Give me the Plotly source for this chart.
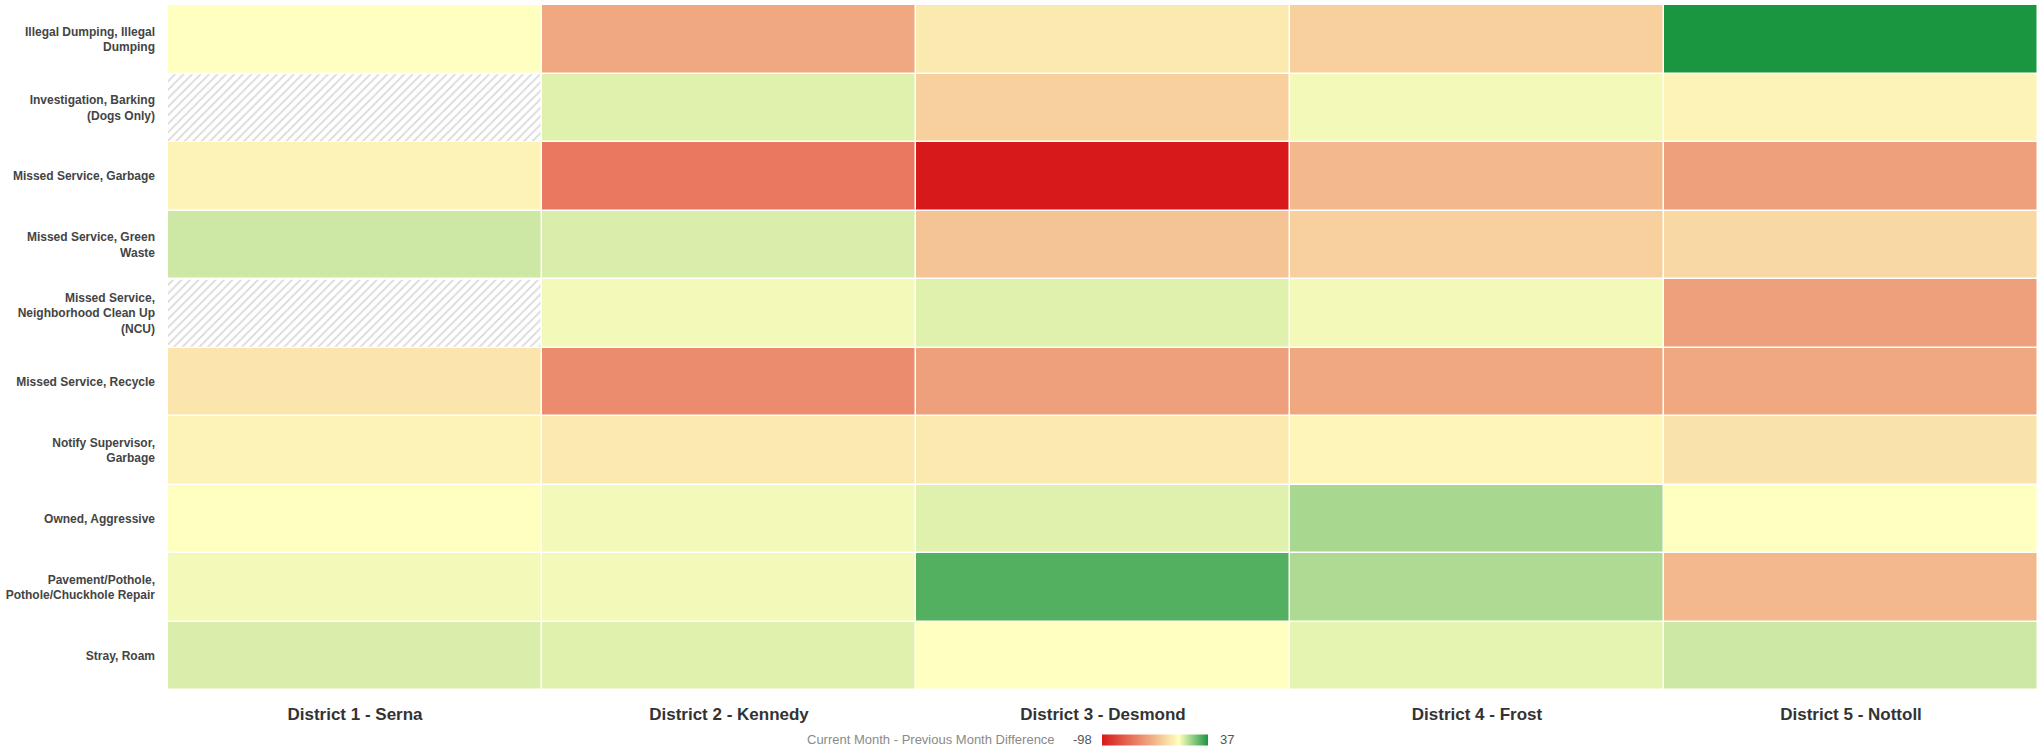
import plotly.graph_objects as go

districts = ["District 1 - Serna", "District 2 - Kennedy", "District 3 - Desmond",
             "District 4 - Frost", "District 5 - Nottoll"]

request_types = [
    "Illegal Dumping, Illegal<br>Dumping",
    "Investigation, Barking<br>(Dogs Only)",
    "Missed Service, Garbage",
    "Missed Service, Green<br>Waste",
    "Missed Service,<br>Neighborhood Clean Up<br>(NCU)",
    "Missed Service, Recycle",
    "Notify Supervisor,<br>Garbage",
    "Owned, Aggressive",
    "Pavement/Pothole,<br>Pothole/Chuckhole Repair",
    "Stray, Roam",
]

# Current month minus previous month, one list per district (None = no data)
serna   = [0, None, -5, 8, None, -11, -5, 0, 2, 6]
kennedy = [-37, 5, -57, 6, 2, -49, -9, 2, 2, 5]
desmond = [-9, -20, -98, -25, 5, -41, -9, 5, 28, 0]
frost   = [-20, 2, -30, -20, 2, -37, -4, 14, 13, 4]
nottoll = [37, -5, -41, -16, -41, -37, -12, 0, -30, 8]

z_min, z_max = -98, 37
columns = [serna, kennedy, desmond, frost, nottoll]
z = [[col[r] for col in columns] for r in range(len(request_types))]

mid = (0 - z_min) / (z_max - z_min)
colorscale = [[0.0, "#d7191c"], [mid, "#ffffbf"], [1.0, "#1a9641"]]

font_family = "Arial, Liberation Sans, sans-serif"

fig = go.Figure()

fig.add_trace(go.Heatmap(
    z=z,
    x=list(range(len(districts))),
    y=list(range(len(request_types))),
    zmin=z_min, zmax=z_max,
    colorscale=colorscale,
    xgap=1.5, ygap=1.5,
    hoverongaps=False,
    colorbar=dict(
        orientation="h",
        x=0.5278, xanchor="center",
        y=-0.0723, yanchor="middle",
        len=126, lenmode="pixels",
        thickness=11,
        outlinewidth=0,
        showticklabels=False,
        ticks="",
    ),
))

# Hatched cells for missing values
miss_rows, miss_cols = [], []
for c, col in enumerate(columns):
    for r, v in enumerate(col):
        if v is None:
            miss_rows.append(r)
            miss_cols.append(c)

fig.add_trace(go.Bar(
    orientation="h",
    y=miss_rows,
    x=[0.996] * len(miss_rows),
    base=[c - 0.5 for c in miss_cols],
    width=0.98,
    marker=dict(
        color="white",
        line=dict(width=0),
        pattern=dict(shape="/", fgcolor="#b4b4b4", bgcolor="white",
                     size=6, solidity=0.3),
    ),
    showlegend=False,
    hoverinfo="skip",
))

fig.update_layout(
    width=2041, height=750,
    margin=dict(l=168, r=3, t=5, b=60, autoexpand=False),
    paper_bgcolor="white",
    plot_bgcolor="white",
    font=dict(family=font_family),
    showlegend=False,
    barmode="overlay",
    xaxis=dict(
        range=[-0.5, len(districts) - 0.5],
        tickvals=list(range(len(districts))),
        ticktext=districts,
        tickfont=dict(size=17, color="#333333", family=font_family, weight="bold"),
        showgrid=False, zeroline=False, showline=False, ticks="",
        ticklabelstandoff=12,
    ),
    yaxis=dict(
        range=[len(request_types) - 0.5, -0.5],
        tickvals=list(range(len(request_types))),
        ticktext=request_types,
        tickfont=dict(size=12, color="#444444", family=font_family, weight="bold"),
        showgrid=False, zeroline=False, showline=False, ticks="",
        ticklabelstandoff=12,
    ),
    annotations=[
        dict(text="Current Month - Previous Month Difference", xref="paper", yref="paper",
             x=0.4754, y=-0.0723, xanchor="right", yanchor="middle", showarrow=False,
             font=dict(size=13, color="#8a8a8a", family=font_family)),
        dict(text=str(z_min), xref="paper", yref="paper",
             x=0.4952, y=-0.0723, xanchor="right", yanchor="middle", showarrow=False,
             font=dict(size=13, color="#555555", family=font_family)),
        dict(text=str(z_max), xref="paper", yref="paper",
             x=0.5615, y=-0.0723, xanchor="left", yanchor="middle", showarrow=False,
             font=dict(size=13, color="#555555", family=font_family)),
    ],
)

fig.write_html("out.html")
